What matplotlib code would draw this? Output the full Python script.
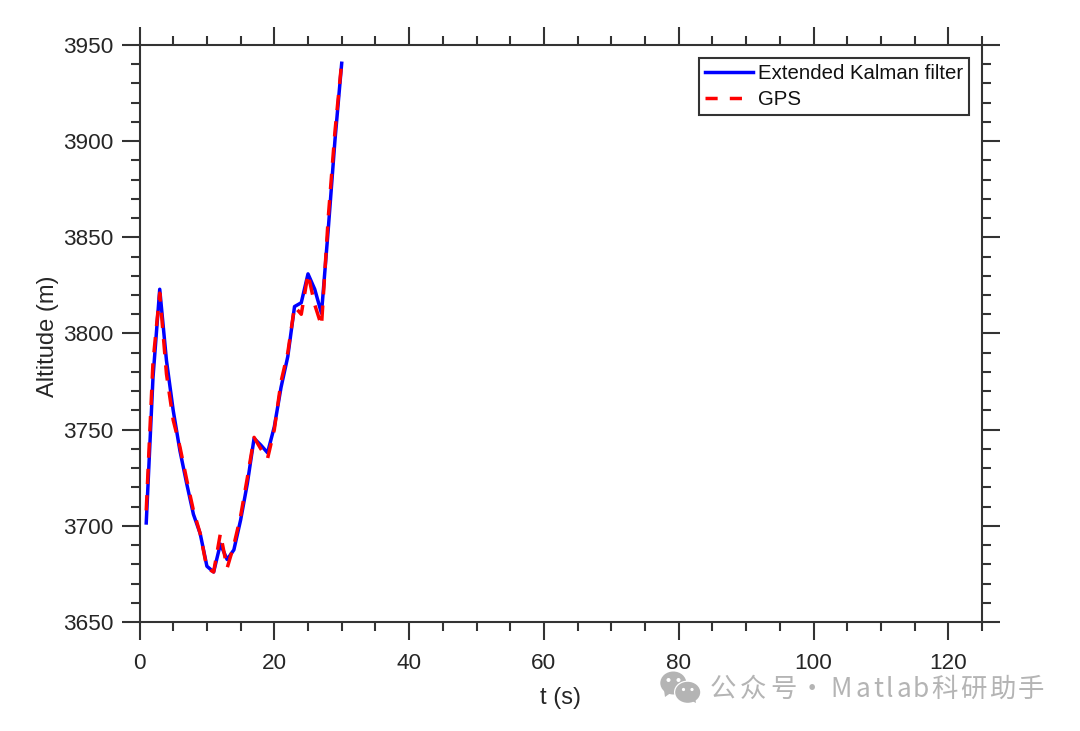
import matplotlib
matplotlib.use("Agg")
import matplotlib.pyplot as plt
from matplotlib.patches import Ellipse, Polygon
from matplotlib.ticker import MultipleLocator

plt.rcParams["font.family"] = ["Liberation Sans", "DejaVu Sans"]

ANCHO, ALTO = 1080, 731
OSCURO = "#333333"
TEXTO = "#262626"
GRIS = "#b4b4b4"

# Valores
tiempo = list(range(1, 31))
ekf = [3701.5, 3777, 3823, 3786, 3760, 3739, 3722, 3706, 3696, 3679,
       3676, 3690.5, 3682.5, 3687.5, 3703, 3722, 3745.5, 3742, 3738, 3751.5,
       3772, 3788, 3814, 3816, 3831, 3823, 3810.5, 3854, 3900.5, 3940.5]
gps = [3708, 3785, 3821, 3779, 3755, 3741, 3724, 3708, 3696, 3678,
       3676, 3696, 3678, 3690, 3705, 3725, 3746, 3740, 3735, 3750,
       3775, 3790, 3814, 3810, 3831, 3815, 3804, 3860, 3905, 3941]
etiquetas = ["Extended Kalman filter", "GPS"]

# Marca de agua: cada signo con su centro en pixeles, por el espaciado ancho
signos = ["公", "众", "号", "·", "M", "a", "t", "l", "a", "b", "科", "研", "助", "手"]
signos_x = [723.3, 753.3, 783.3, 812, 841, 862.5, 878, 889, 903.5, 920.5, 944, 973, 1002, 1031]


def dibujar_marca_agua(fig) -> None:
    """Marca de agua de WeChat, en pixeles de la figura."""
    capa = fig.add_axes([0, 0, 1, 1], zorder=5)
    capa.set_xlim(0, ANCHO)
    capa.set_ylim(ALTO, 0)
    capa.axis("off")
    capa.patch.set_alpha(0)
    capa.add_patch(Ellipse((673.3, 683), 26, 23, color=GRIS, lw=0))
    capa.add_patch(Polygon([(664, 690), (665, 697), (672, 692)], color=GRIS, lw=0))
    capa.add_patch(Ellipse((687.7, 692.3), 27.5, 23.5, color="white", lw=0))
    capa.add_patch(Ellipse((687.7, 692.3), 25, 21, color=GRIS, lw=0))
    capa.add_patch(Polygon([(690, 700), (696, 703), (695, 697)], color=GRIS, lw=0))
    for cx, cy, d in [(668.5, 680, 4), (678.5, 680, 4), (683.5, 689.5, 3.2), (692, 689.5, 3.2)]:
        capa.add_patch(Ellipse((cx, cy), d, d, color="white", lw=0))
    for signo, x in zip(signos, signos_x):
        capa.text(x, 697, signo, color=GRIS, fontsize=19,
                  family=["Noto Sans CJK SC", "DejaVu Sans"], va="baseline", ha="center")


def main() -> None:
    fig = plt.figure(figsize=(ANCHO / 100, ALTO / 100), dpi=100, facecolor="white")
    ax = fig.add_axes([139.5 / ANCHO, (ALTO - 622) / ALTO, (982 - 139.5) / ANCHO, (622 - 45) / ALTO])

    ax.plot(tiempo, ekf, color="#0000ff", lw=2.5, label=etiquetas[0])
    ax.plot(tiempo, gps, color="#ff0000", lw=2.5, dashes=(4.4, 3.2), label=etiquetas[1])

    ax.set_xlim(0, 125)
    ax.set_ylim(3650, 3950)
    ax.xaxis.set_major_locator(MultipleLocator(20))
    ax.xaxis.set_minor_locator(MultipleLocator(5))
    ax.yaxis.set_major_locator(MultipleLocator(50))
    ax.yaxis.set_minor_locator(MultipleLocator(10))
    ax.tick_params(which="major", direction="out", length=13, width=1.5, color=OSCURO,
                   labelcolor=TEXTO, labelsize=16.2, top=True, right=True, pad=5.5)
    ax.tick_params(which="minor", direction="out", length=6.5, width=1.5, color=OSCURO,
                   top=True, right=True)
    ax.tick_params(axis="x", which="major", pad=9.5)
    for borde in ax.spines.values():
        borde.set_linewidth(1.5)
        borde.set_color(OSCURO)

    ax.set_xlabel("t (s)", fontsize=17, color=TEXTO)
    ax.set_ylabel("Altitude (m)", fontsize=17, color=TEXTO)
    ax.xaxis.set_label_coords(0.5, -0.112)
    ax.yaxis.set_label_coords(-0.095, 0.495)

    leyenda = ax.legend(loc="upper right", bbox_to_anchor=(0.9846, 0.9775), borderaxespad=0,
                        fontsize=14.7, fancybox=False, framealpha=1, edgecolor=OSCURO,
                        handlelength=2.35, handletextpad=0.25, borderpad=0.3, labelspacing=0.33)
    leyenda.get_frame().set_linewidth(1.5)
    leyenda.get_lines()[1].set_dashes((3.5, 3.5))
    for texto in leyenda.get_texts():
        texto.set_color("#111111")

    dibujar_marca_agua(fig)
    fig.savefig("out.png", dpi=100)
    plt.close(fig)


if __name__ == "__main__":
    main()
